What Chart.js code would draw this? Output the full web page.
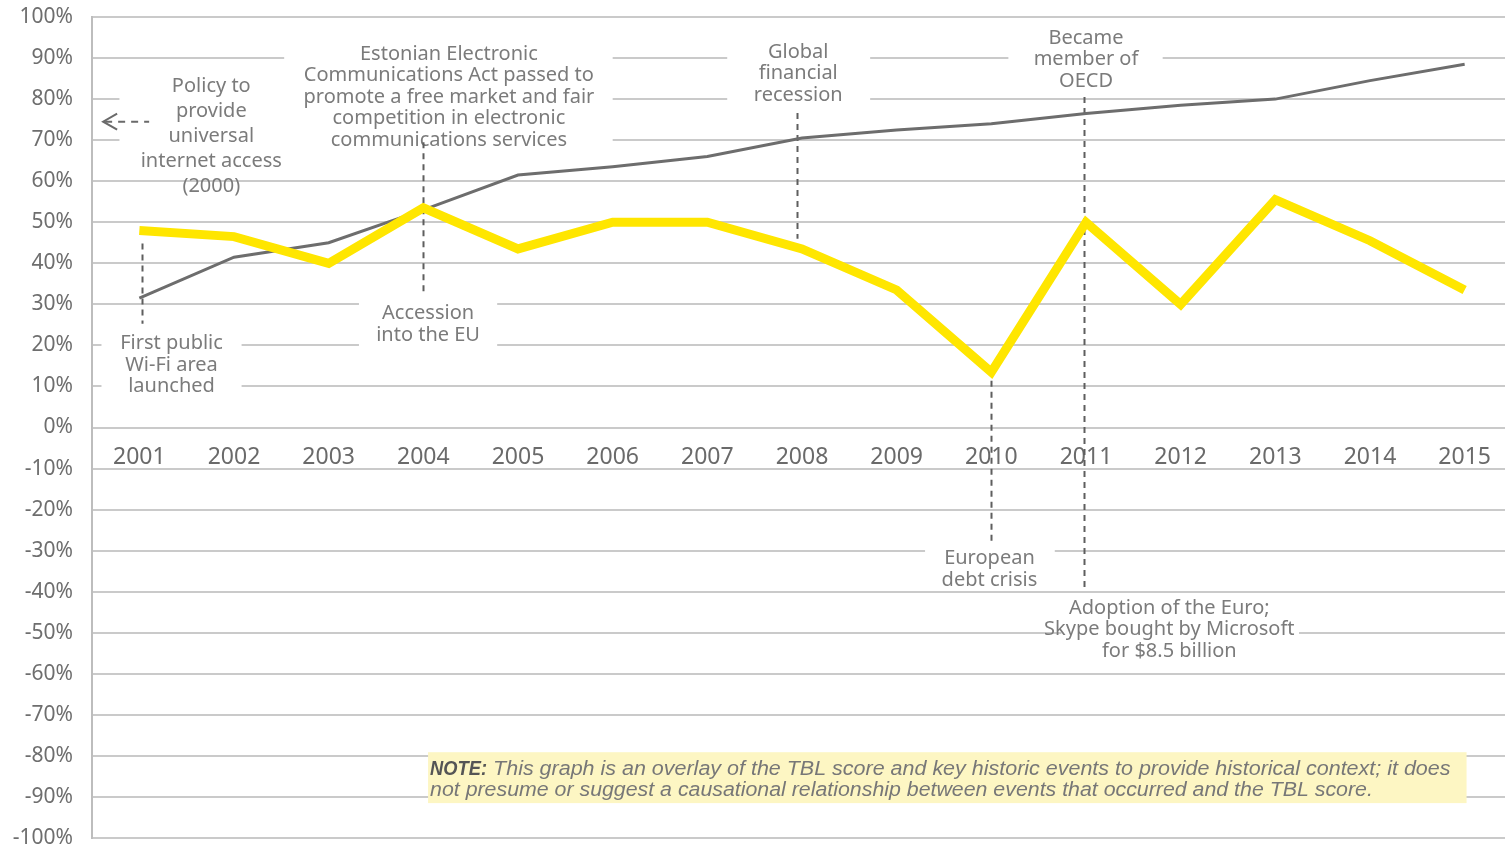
<!DOCTYPE html>
<html>
<head>
<meta charset="utf-8">
<script src="https://cdn.jsdelivr.net/npm/chart.js@4.4.1/dist/chart.umd.min.js"></script>
<style>
    html, body { margin: 0; padding: 0; background: #fff; overflow: hidden; }
    #wrap { width: 1512px; height: 848px; }
</style>
</head>
<body>
<div id="wrap"><canvas id="chart"></canvas></div>
<script>
// values (percent)
const years = ["2001", "2002", "2003", "2004", "2005", "2006", "2007", "2008",
    "2009", "2010", "2011", "2012", "2013", "2014", "2015"];
const tblScore = [48, 46.5, 40, 53.5, 43.5, 50, 50, 43.5, 33.5, 13.5, 50, 30, 55.5, 45.5, 33.5];
const internetUse = [31.5, 41.5, 45, 53, 61.5, 63.5, 66, 70.5, 72.5, 74, 76.5, 78.5, 80, 84.5, 88.5];
const yTicks = [-100, 100, 10];

// historic events
const eventTexts = [
    ["Policy to", "provide", "universal", "internet access", "(2000)"],
    ["Estonian Electronic", "Communications Act passed to", "promote a free market and fair",
        "competition in electronic", "communications services"],
    ["Global", "financial", "recession"],
    ["Became", "member of", "OECD"],
    ["First public", "Wi-Fi area", "launched"],
    ["Accession", "into the EU"],
    ["European", "debt crisis"],
    ["Adoption of the Euro;", "Skype bought by Microsoft", "for $8.5 billion"]
];
const noteText = [
    "This graph is an overlay of the TBL score and key historic events to provide historical context; it does",
    "not presume or suggest a causational relationship between events that occurred and the TBL score."
];

// where the labels sit: text centre (category index, %), line height, white box, dashed leader
const eventLayout = [
    { cx: 0.76, cy: 83.2, lh: 25.2, box: [-0.21, 1.6, 87, 62.5], dash: null },
    { cx: 3.27, cy: 91, lh: 21.6, box: [1.53, 5.0, 94.6, 67.4], dash: [3.0, 69.5, 32.6] },
    { cx: 6.96, cy: 91.5, lh: 21.8, box: [6.21, 7.72, 94.6, 77.6], dash: [6.95, 76.6, 46] },
    { cx: 10.0, cy: 94.9, lh: 21.5, box: [9.18, 10.81, 98.5, 81.5], dash: [9.98, 80.5, -39.7] },
    { cx: 0.34, cy: 20.4, lh: 21.5, box: [-0.4, 1.08, 23.6, 7], dash: [0.03, 44.8, 25.3] },
    { cx: 3.05, cy: 27.7, lh: 21.8, box: [2.32, 3.78, 31.9, 18.2], dash: null },
    { cx: 8.98, cy: -31.9, lh: 21.8, box: [8.3, 9.67, -27.5, -39], dash: [9.0, 11.4, -28.2] },
    { cx: 10.88, cy: -44, lh: 21.6, box: [9.74, 12.25, -41.2, -57.7], dash: null }
];

function fitText(ctx, text, x, y, width) {
    const w = ctx.measureText(text).width;
    ctx.save();
    ctx.translate(x, y);
    ctx.scale(width / w, 1);
    ctx.fillText(text, 0, 0);
    ctx.restore();
}

const eventsPlugin = {
    id: "events",
    beforeDatasetsDraw(chart) {
        const ctx = chart.ctx;
        const x = chart.scales.x;
        const y = chart.scales.y;
        ctx.save();

        // white backgrounds that break the grid lines
        ctx.fillStyle = "#ffffff";
        eventLayout.forEach((l) => {
            const x0 = x.getPixelForValue(l.box[0]);
            const x1 = x.getPixelForValue(l.box[1]);
            const y0 = y.getPixelForValue(l.box[2]);
            const y1 = y.getPixelForValue(l.box[3]);
            ctx.fillRect(x0, y0, x1 - x0, y1 - y0);
        });

        // event labels
        ctx.font = "20px 'Noto Sans'";
        ctx.fillStyle = "#7b7b7b";
        ctx.textAlign = "center";
        ctx.textBaseline = "middle";
        eventLayout.forEach((l, i) => {
            const cx = x.getPixelForValue(l.cx);
            const cy = y.getPixelForValue(l.cy);
            eventTexts[i].forEach((line, j) => {
                ctx.fillText(line, cx, cy + j * l.lh);
            });
        });

        // arrow pointing back to 2000
        ctx.strokeStyle = "#6a6a6a";
        ctx.lineWidth = 2;
        const ax = x.getPixelForValue(-0.15);
        const ay = y.getPixelForValue(74.5);
        ctx.beginPath();
        ctx.moveTo(ax - 8, ay - 8);
        ctx.lineTo(ax - 22, ay);
        ctx.lineTo(ax - 8, ay + 8);
        ctx.stroke();
        ctx.setLineDash([7, 6]);
        ctx.beginPath();
        ctx.moveTo(ax - 20, ay);
        ctx.lineTo(ax + 24, ay);
        ctx.stroke();

        // dashed leaders
        ctx.setLineDash([6, 5]);
        ctx.strokeStyle = "#5e5e5e";
        eventLayout.forEach((l) => {
            if (!l.dash) return;
            const dx = Math.round(x.getPixelForValue(l.dash[0])) + 0.5;
            ctx.beginPath();
            ctx.moveTo(dx, y.getPixelForValue(l.dash[1]));
            ctx.lineTo(dx, y.getPixelForValue(l.dash[2]));
            ctx.stroke();
        });
        ctx.restore();
    },
    afterDraw(chart) {
        const ctx = chart.ctx;
        const x = chart.scales.x;
        const y = chart.scales.y;
        const x0 = x.getPixelForValue(3.05);
        const x1 = x.getPixelForValue(14.02);
        const y0 = y.getPixelForValue(-79.1);
        const y1 = y.getPixelForValue(-91.5);
        ctx.save();
        ctx.fillStyle = "#fdf6c3";
        ctx.fillRect(x0, y0, x1 - x0, y1 - y0);

        ctx.textBaseline = "middle";
        ctx.textAlign = "left";
        ctx.font = "italic bold 20px 'Liberation Sans'";
        ctx.fillStyle = "#555555";
        const tx = x0 + 2;
        fitText(ctx, "NOTE:", tx, y0 + 17, 57);
        ctx.font = "italic 20px 'Liberation Sans'";
        ctx.fillStyle = "#777777";
        const line1 = x.getPixelForValue(13.85);
        const line2 = x.getPixelForValue(13.03);
        fitText(ctx, noteText[0], tx + 63, y0 + 17, line1 - tx - 63);
        fitText(ctx, noteText[1], tx, y0 + 38, line2 - tx);
        ctx.restore();
    }
};

const ctx = document.getElementById("chart").getContext("2d");

new Chart(ctx, {
    type: "line",
    data: {
        labels: years,
        datasets: [
            {
                label: "Internet use",
                data: internetUse,
                borderColor: "#6d6d6d",
                borderWidth: 3,
                pointRadius: 0,
                tension: 0,
                order: 2
            },
            {
                label: "TBL score",
                data: tblScore,
                borderColor: "#ffe600",
                borderWidth: 9,
                borderJoinStyle: "miter",
                pointRadius: 0,
                tension: 0,
                order: 1
            }
        ]
    },
    options: {
        responsive: true,
        maintainAspectRatio: false,
        animation: false,
        layout: {
            padding: { top: 17, right: 0, bottom: 10, left: 0 }
        },
        plugins: {
            legend: { display: false },
            tooltip: { enabled: false }
        },
        scales: {
            x: {
                position: { y: 0 },
                offset: true,
                afterFit: (scale) => {
                    scale.height = 0;
                    scale.paddingLeft = 0;
                    scale.paddingRight = 0;
                },
                grid: { display: false, offset: true },
                border: { display: false },
                ticks: {
                    padding: 8,
                    color: "#6a6a6a",
                    font: { family: "Noto Sans", size: 23 },
                    maxRotation: 0,
                    autoSkip: false
                }
            },
            y: {
                min: yTicks[0],
                max: yTicks[1],
                afterFit: (scale) => {
                    scale.width = 92;
                    scale.paddingTop = 0;
                    scale.paddingBottom = 0;
                },
                grid: {
                    color: "#cacaca",
                    lineWidth: 2,
                    drawTicks: false
                },
                border: { color: "#bdbdbd", width: 2 },
                ticks: {
                    stepSize: yTicks[2],
                    padding: 19,
                    color: "#6e6e6e",
                    font: { family: "Noto Sans", size: 21 },
                    callback: (v) => v + "%"
                }
            }
        }
    },
    plugins: [eventsPlugin]
});
</script>
</body>
</html>
